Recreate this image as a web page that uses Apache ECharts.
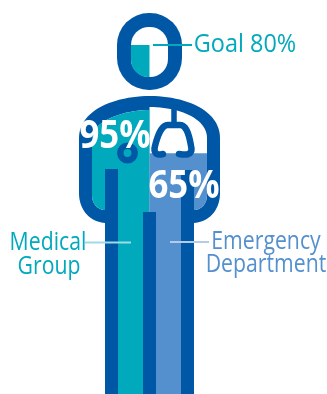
<!DOCTYPE html>
<html>
<head>
<meta charset="utf-8">
<style>html,body{margin:0;padding:0;background:#fff}#c{width:327px;height:394px}</style>
<script src="https://cdn.jsdelivr.net/npm/echarts@6/dist/echarts.min.js"></script>
</head>
<body>
<div id="c"></div>
<script>
// Compliance figures shown inside the person pictogram
const departments = ['Medical Group', 'Emergency Department'];
const departmentValues = [95, 65];
const goalValue = [80];
const goalLabel = ['Goal 80%'];
const departmentLabels = [['Medical', 'Group'], ['Emergency', 'Department']];

const DARK = '#0057a5', TEAL = '#00a9bc', BLUE = '#5490ce';
const FONT = '"Open Sans", sans-serif';

const chart = echarts.init(document.getElementById('c'), null, { renderer: 'canvas' });

// Sample a cubic curve into points
function cubic(p0, p1, p2, p3, n = 24) {
  const pts = [];
  for (let i = 0; i <= n; i++) {
    const t = i / n, u = 1 - t;
    pts.push([
      u*u*u*p0[0] + 3*u*u*t*p1[0] + 3*u*t*t*p2[0] + t*t*t*p3[0],
      u*u*u*p0[1] + 3*u*u*t*p1[1] + 3*u*t*t*p2[1] + t*t*t*p3[1]
    ]);
  }
  return pts;
}

// Body silhouette, running clockwise from the lower left of the leg
const outerBody = [].concat(
  [[105, 394]],
  cubic([105, 223], [90, 222], [79, 210], [79, 193]),
  cubic([79, 138], [79, 110], [115, 96], [150, 96]),
  cubic([150, 96], [185, 96], [220, 110], [220, 138]),
  cubic([220, 193], [220, 210], [209, 222], [194, 223]),
  [[194, 394]]
);
const MID = 149.5;
const innerLeft = [].concat(
  [[MID, 394], [105, 394]],
  cubic([105, 210], [98, 210], [92, 204], [92, 195]),
  cubic([92, 138], [92, 122], [122, 110], [MID, 110])
);
const innerRight = [].concat(
  [[MID, 107]],
  cubic([MID, 107], [178, 107], [207, 118], [207, 138]),
  cubic([207, 195], [207, 204], [201, 210], [194, 210]),
  [[194, 394], [MID, 394]]
);

// Keep only the part of a polygon at or below a horizontal level
function clipBelow(poly, level) {
  const out = [];
  for (let i = 0; i < poly.length; i++) {
    const a = poly[i], b = poly[(i + 1) % poly.length];
    const ain = a[1] >= level, bin = b[1] >= level;
    if (ain) out.push(a);
    if (ain !== bin) {
      const t = (level - a[1]) / (b[1] - a[1]);
      out.push([a[0] + t * (b[0] - a[0]), level]);
    }
  }
  return out;
}

const strips = [[105, 169, 13], [143, 212, 13], [181, 170, 13]];
const bell = [].concat(
  cubic([163, 154], [157, 156], [153, 153], [155, 146], 8),
  cubic([155, 146], [158, 134], [162, 125], [168, 125], 14),
  [[180, 125]],
  cubic([180, 125], [186, 125], [189, 134], [191, 146], 14),
  cubic([191, 146], [193, 153], [189, 156], [179, 154], 8)
);

function txt(text, x, y, size, fill, sx, weight) {
  return {
    type: 'text', x, y, scaleX: sx,
    style: { text, x: 0, y: 0, fill, textAlign: 'center', textVerticalAlign: 'middle',
      font: (weight || 'normal') + ' ' + size + 'px ' + FONT }
  };
}
function line(x1, x2, y, stroke) {
  return { type: 'line', shape: { x1, y1: y, x2, y2: y }, style: { stroke, lineWidth: 2 } };
}

const option = {
  animation: false,
  grid: [
    { left: 0, right: 0, top: 0, bottom: -2 },
    { left: 0, right: 0, top: 27, height: 50 }
  ],
  xAxis: [
    { type: 'category', data: departments, show: false, gridIndex: 0 },
    { type: 'category', data: ['Goal'], show: false, gridIndex: 1 }
  ],
  yAxis: [
    { type: 'value', min: -100, max: 170, show: false, gridIndex: 0 },
    { type: 'value', min: 0, max: 125, show: false, gridIndex: 1 }
  ],
  series: [
    {
      // Head and body outlines with their white interiors
      type: 'custom', name: 'figure', z: 1, silent: true, clip: false,
      xAxisIndex: 0, yAxisIndex: 0, data: [0],
      renderItem: () => ({
        type: 'group', children: [
          { type: 'rect', shape: { x: 117, y: 13, width: 65, height: 77, r: 32 }, style: { fill: DARK } },
          { type: 'rect', shape: { x: 131, y: 27, width: 37, height: 50, r: 18 }, style: { fill: '#fff' } },
          { type: 'polygon', shape: { points: outerBody }, style: { fill: DARK } },
          { type: 'polygon', shape: { points: innerLeft }, style: { fill: '#fff' } },
          { type: 'polygon', shape: { points: innerRight }, style: { fill: '#fff' } }
        ]
      })
    },
    {
      // Department levels filling each half of the body
      type: 'custom', name: 'departments', z: 2, silent: true, clip: false,
      xAxisIndex: 0, yAxisIndex: 0,
      data: departmentValues.map((v, i) => [i, v]),
      renderItem: (params, api) => {
        const i = api.value(0);
        const top = api.coord([i, api.value(1)])[1];
        return {
          type: 'polygon',
          shape: { points: clipBelow(i === 0 ? innerLeft : innerRight, top) },
          style: { fill: i === 0 ? TEAL : BLUE }
        };
      }
    },
    {
      // Goal level in the head
      type: 'custom', name: 'goal', z: 2, silent: true, clip: false,
      xAxisIndex: 1, yAxisIndex: 1,
      data: goalValue.map(v => [0, v]),
      renderItem: (params, api) => {
        const top = api.coord([0, api.value(1)])[1];
        return {
          type: 'rect',
          shape: { x: 131, y: top, width: 18.5, height: 77 - top, r: [0, 0, 0, 17] },
          style: { fill: TEAL }
        };
      }
    },
    {
      // Leg stripes, stethoscope and leader lines
      type: 'custom', name: 'details', z: 3, silent: true, clip: false,
      xAxisIndex: 0, yAxisIndex: 0, data: [0],
      renderItem: () => ({
        type: 'group', children: [
          ...strips.map(s => ({ type: 'rect', shape: { x: s[0], y: s[1], width: s[2], height: 394 - s[1] }, style: { fill: DARK } })),
          { type: 'circle', shape: { cx: 127.5, cy: 153, r: 7.2 }, style: { fill: 'none', stroke: DARK, lineWidth: 6.5 } },
          { type: 'line', shape: { x1: 174, y1: 106, x2: 174, y2: 125 }, style: { stroke: DARK, lineWidth: 5.5 } },
          { type: 'polyline', shape: { points: bell }, style: { fill: 'none', stroke: DARK, lineWidth: 6.5, lineCap: 'round', lineJoin: 'round' } },
          line(153, 192, 45, TEAL),
          line(85, 131, 242.5, '#9fdbe3'),
          line(170, 209, 242, '#b4cce8')
        ]
      })
    },
    {
      // Figures and captions
      type: 'custom', name: 'labels', z: 4, silent: true, clip: false,
      xAxisIndex: 0, yAxisIndex: 0, data: [0],
      renderItem: () => ({
        type: 'group', children: [
          txt(departmentValues[0] + '%', 115, 137, 40, '#fff', 0.87, 'bold'),
          txt(departmentValues[1] + '%', 184, 187, 40, '#fff', 0.87, 'bold'),
          txt(goalLabel[0], 245, 45, 25.5, TEAL, 0.92),
          txt(departmentLabels[0][0], 48, 243, 25, TEAL, 0.85),
          txt(departmentLabels[0][1], 49, 267, 25, TEAL, 0.85),
          txt(departmentLabels[1][0], 266, 242, 25, BLUE, 0.85),
          txt(departmentLabels[1][1], 266, 265, 25, BLUE, 0.85)
        ]
      })
    }
  ]
};
chart.setOption(option);
</script>
</body>
</html>
